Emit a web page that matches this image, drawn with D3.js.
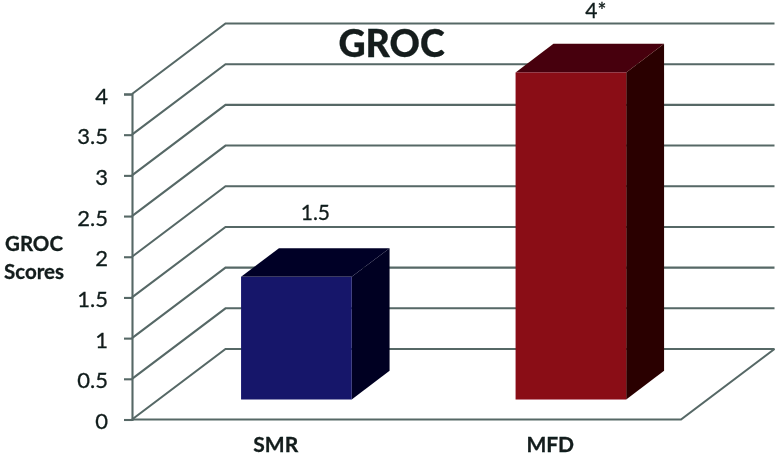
<!DOCTYPE html>
<html>
<head>
<meta charset="utf-8">
<script src="https://cdn.jsdelivr.net/npm/d3@7"></script>
<style>
  html, body { margin: 0; padding: 0; background: #fff; }
  text { font-family: Lato, "Open Sans", sans-serif; fill: #121c1b; stroke: #121c1b; stroke-width: 0.3px; }
</style>
</head>
<body>
<script>
var categories = ["SMR", "MFD"];
var values = [1.5, 4];
var valueLabels = ["1.5", "4*"];
var yTicks = [0, 0.5, 1, 1.5, 2, 2.5, 3, 3.5, 4];
var frontColors = ["#13136a", "#8a0a12"];
var topColors = ["#060628", "#470608"];
var sideColors = ["#040422", "#2c0305"];

var width = 777, height = 455;
var lineColor = "#566866";

var svg = d3.select("body").append("svg")
    .attr("width", width)
    .attr("height", height)
    .style("display", "block");

// slight softening, the reference is a scaled-up raster
svg.append("defs").append("filter")
    .attr("id", "soft")
  .append("feGaussianBlur")
    .attr("stdDeviation", 0.45);

var root = svg.append("g").attr("filter", "url(#soft)");

var x = d3.scaleBand().domain(categories).range([132, 681]);
var y = d3.scaleLinear().domain([0, 4]).range([419.5, 94]);
// bars come out a touch taller than the axis in the reference
var yBar = d3.scaleLinear().domain([0, 4]).range([419.5, 92.5]);

// depth: 0 is the front of the floor, 1 the back wall
var depthX = d3.scaleLinear().domain([0, 1]).range([0, 93.5]);
var depthY = d3.scaleLinear().domain([0, 1]).range([0, -70.5]);
var barFront = 0.285, barBack = 0.69, barShare = 0.403;

function pt(xv, v, d) { return [xv + depthX(d), y(v) + depthY(d)]; }
function ptBar(xv, v, d) { return [xv + depthX(d), yBar(v) + depthY(d)]; }

var line = d3.line();
var xLeft = x.range()[0], xRight = x.range()[1];

// walls
root.selectAll(".grid")
    .data(yTicks)
  .enter().append("path")
    .attr("class", "grid")
    .attr("fill", "none")
    .attr("stroke", lineColor)
    .attr("stroke-width", 2.1)
    .attr("d", function(d) {
      return line([pt(xLeft, d, 0), pt(xLeft, d, 1), pt(xRight, d, 1)]);
    });

// floor front and right edge
root.append("path")
    .attr("fill", "none")
    .attr("stroke", lineColor)
    .attr("stroke-width", 2.1)
    .attr("d", line([pt(xLeft, 0, 0), pt(xRight, 0, 0), pt(xRight, 0, 1)]));

// axis
var axis = d3.axisLeft(y)
    .tickValues(yTicks)
    .tickSize(8)
    .tickPadding(16)
    .tickFormat(function(d) { return String(d); });

var axisG = root.append("g")
    .attr("transform", "translate(" + xLeft + ",0)")
    .call(axis);
axisG.selectAll("line,path").attr("stroke", lineColor).attr("stroke-width", 2.1);
axisG.selectAll("text")
    .attr("fill", "#121c1b")
    .attr("dy", "0.41em")
    .style("font-size", "22px");

// bars
var bars = root.selectAll(".bar")
    .data(categories)
  .enter().append("g")
    .attr("class", "bar");

function barLeft(c) { return x(c) + 0.5 + x.bandwidth() * (0.5 - barShare / 2); }
function barRight(c) { return x(c) + 0.5 + x.bandwidth() * (0.5 + barShare / 2); }

bars.append("path")
    .attr("fill", function(d, i) { return sideColors[i]; })
    .attr("d", function(c, i) {
      return line([ptBar(barRight(c), 0, barFront), ptBar(barRight(c), 0, barBack),
                   ptBar(barRight(c), values[i], barBack), ptBar(barRight(c), values[i], barFront)]) + "Z";
    });

bars.append("path")
    .attr("fill", function(d, i) { return topColors[i]; })
    .attr("d", function(c, i) {
      return line([ptBar(barLeft(c), values[i], barFront), ptBar(barLeft(c), values[i], barBack),
                   ptBar(barRight(c), values[i], barBack), ptBar(barRight(c), values[i], barFront)]) + "Z";
    });

bars.append("path")
    .attr("fill", function(d, i) { return frontColors[i]; })
    .attr("d", function(c, i) {
      return line([ptBar(barLeft(c), 0, barFront), ptBar(barRight(c), 0, barFront),
                   ptBar(barRight(c), values[i], barFront), ptBar(barLeft(c), values[i], barFront)]) + "Z";
    });

// value labels, they sit over the middle of the bar tops
bars.append("text")
    .attr("text-anchor", "middle")
    .attr("x", function(c, i) { return x(c) + x.bandwidth() / 2 + depthX(barFront) + (i === 0 ? 19.5 : 25.5); })
    .attr("y", function(c, i) { return yBar(values[i]) + depthY(barBack) - (i === 0 ? 28 : 25.5); })
    .style("font-size", "21px")
    .text(function(d, i) { return valueLabels[i]; });

// category labels
root.selectAll(".cat")
    .data(categories)
  .enter().append("text")
    .attr("class", "cat")
    .attr("text-anchor", "middle")
    .attr("x", function(c) { return x(c) + x.bandwidth() / 2 + 6.5; })
    .attr("y", 452)
    .style("font-size", "21px")
    .style("font-weight", "700")
    .text(function(d) { return d; });

// title
root.append("text")
    .attr("text-anchor", "middle")
    .attr("x", 391.5)
    .attr("y", 57)
    .style("font-size", "37.5px")
    .style("font-weight", "900")
    .text("GROC");

// y axis title
root.selectAll(".ytitle")
    .data(["GROC", "Scores"])
  .enter().append("text")
    .attr("class", "ytitle")
    .attr("text-anchor", "middle")
    .attr("x", 34)
    .attr("y", function(d, i) { return 251 + i * 28; })
    .style("font-size", "20.5px")
    .style("font-weight", "700")
    .text(function(d) { return d; });
</script>
</body>
</html>
